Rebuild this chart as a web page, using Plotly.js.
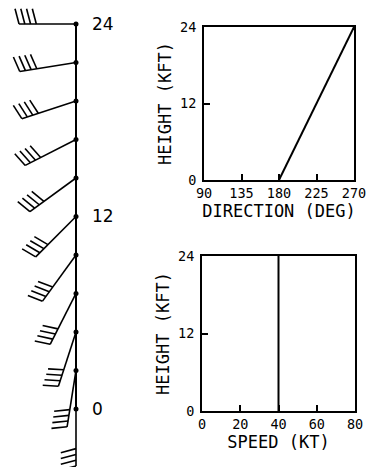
<!DOCTYPE html>
<html>
<head>
<meta charset="utf-8">
<script src="https://cdn.plot.ly/plotly-3.0.1.min.js"></script>
<style>html,body{margin:0;padding:0;background:#fff;}#chart{width:367px;height:467px;}</style>
</head>
<body>
<div id="chart"></div>
<script>
// ---- data ----
const heights = [0, 2.4, 4.8, 7.2, 9.6, 12, 14.4, 16.8, 19.2, 21.6, 24];        // kft
const directions = [180, 189, 198, 207, 216, 225, 234, 243, 252, 261, 270];     // deg
const speeds = [40, 40, 40, 40, 40, 40, 40, 40, 40, 40, 40];                    // kt
const heightTicks = [0, 12, 24];
const dirTicks = [90, 135, 180, 225, 270];
const speedTicks = [0, 20, 40, 60, 80];

// ---- barb geometry (units: kft on the barb panel, equal px scale on both axes) ----
const STAFF = 3.56, FEATHER = 0.95, GAP = 0.36, SLANT = 0.25;
const bx = [], by = [];
heights.forEach((h, i) => {
  const t = directions[i] * Math.PI / 180;
  const dx = Math.sin(t), dy = Math.cos(t);      // toward where wind comes from
  const px = Math.cos(t), py = -Math.sin(t);     // feather side
  bx.push(0, STAFF * dx, null); by.push(h, h + STAFF * dy, null);
  const n = Math.floor(speeds[i] / 10);
  for (let k = 0; k < n; k++) {
    const s = STAFF - k * GAP;
    const x0 = s * dx, y0 = h + s * dy;
    bx.push(x0, x0 + FEATHER * px + SLANT * dx, null);
    by.push(y0, y0 + FEATHER * py + SLANT * dy, null);
  }
});

const black = '#000';
const traces = [
  {x: [0, 0], y: [heights[0], heights[heights.length - 1]], xaxis: 'x3', yaxis: 'y3',
   mode: 'lines', line: {color: black, width: 2}, hoverinfo: 'skip'},
  {x: bx, y: by, xaxis: 'x3', yaxis: 'y3', mode: 'lines',
   line: {color: black, width: 1.6}, connectgaps: false, hoverinfo: 'skip'},
  {x: heights.map(() => 0), y: heights, xaxis: 'x3', yaxis: 'y3', mode: 'markers',
   marker: {color: black, size: 5}, hoverinfo: 'skip'},
  {x: directions, y: heights, xaxis: 'x', yaxis: 'y', mode: 'lines',
   line: {color: black, width: 2}},
  {x: speeds, y: heights, xaxis: 'x2', yaxis: 'y2', mode: 'lines',
   line: {color: black, width: 2}}
];

const W = 367, H = 467;
const tf = {family: 'DejaVu Sans Mono, monospace', size: 13.5, color: black};
const ttf = {family: 'DejaVu Sans Mono, monospace', size: 17, color: black};
function boxAxis(extra) {
  return Object.assign({
    showline: true, linecolor: black, linewidth: 2, mirror: true,
    showgrid: false, zeroline: false, ticks: 'inside', ticklen: 6, tickwidth: 2,
    tickcolor: black, tickfont: tf, tickmode: 'array', fixedrange: true,
    ticklabeloverflow: 'allow'
  }, extra);
}

const layout = {
  width: W, height: H, margin: {l: 0, r: 0, t: 0, b: 0},
  paper_bgcolor: '#fff', plot_bgcolor: 'rgba(0,0,0,0)', showlegend: false,
  xaxis: boxAxis({domain: [204 / W, 354 / W], range: [90, 270], tickvals: dirTicks,
    anchor: 'y', title: {text: 'DIRECTION (DEG)', font: ttf, standoff: 0}}),
  yaxis: boxAxis({domain: [1 - 180 / H, 1 - 27 / H], range: [0, 24], tickvals: heightTicks,
    anchor: 'x', ticklabelstandoff: 3, title: {text: 'HEIGHT (KFT)', font: ttf, standoff: 4}}),
  xaxis2: boxAxis({domain: [202 / W, 355 / W], range: [0, 80], tickvals: speedTicks,
    anchor: 'y2', title: {text: 'SPEED (KT)', font: ttf, standoff: 0}}),
  yaxis2: boxAxis({domain: [1 - 411 / H, 1 - 256 / H], range: [0, 24], tickvals: heightTicks,
    anchor: 'x2', ticklabelstandoff: 3, title: {text: 'HEIGHT (KFT)', font: ttf, standoff: 4}}),
  xaxis3: {domain: [0, 88 / W], range: [-76 / 16, 12 / 16], visible: false, fixedrange: true, anchor: 'y3'},
  yaxis3: {domain: [0, 1], range: [-58 / 16, 24 + 24 / 16], anchor: 'x3', side: 'right',
    showline: false, showgrid: false, zeroline: false, ticks: '', tickmode: 'array',
    tickvals: heightTicks, tickfont: {family: 'DejaVu Sans, sans-serif', size: 17, color: black},
    ticklabelstandoff: 3, fixedrange: true}
};

Plotly.newPlot('chart', traces, layout, {displayModeBar: false, staticPlot: true});
</script>
</body>
</html>
